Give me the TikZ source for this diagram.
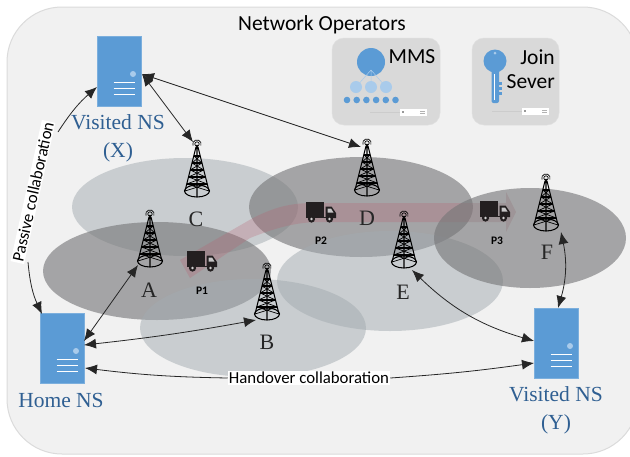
\documentclass[tikz,border=0pt]{standalone}
\usepackage{fontspec}
\setmainfont{Carlito}
\newfontfamily\labelfont{Liberation Serif}
\usetikzlibrary{arrows.meta,calc}
\definecolor{srvblue}{HTML}{5B9BD5}
\definecolor{srvlight}{HTML}{A9CBEB}
\definecolor{nstext}{HTML}{2F5F92}
\definecolor{truckdark}{HTML}{231F20}
\definecolor{cellpale}{HTML}{A3ABB0}
\definecolor{celldark}{HTML}{767678}
\definecolor{bandtone}{HTML}{B85F70}
\tikzset{
  x=1pt,y=-1pt,
  canvasbox/.style={fill=black!5.5,draw=black!14,line width=1pt,rounded corners=55pt},
  darkcell/.style={fill=celldark,fill opacity=.62,draw=none},
  lightcell/.style={fill=cellpale,fill opacity=.5,draw=none},
  bandfill/.style={fill=bandtone,fill opacity=.27,draw=none},
  serverbox/.style={fill=srvblue,draw=srvblue!80!white,line width=.5pt,minimum width=44pt,minimum height=70pt,inner sep=0pt},
  toolbox/.style={fill=black!15,draw=black!12,line width=.5pt,rounded corners=12pt,inner sep=0pt},
  nslabel/.style={font=\labelfont\fontsize{21.5}{28}\selectfont,text=nstext,align=center,inner sep=0pt},
  cellletter/.style={font=\labelfont\fontsize{22}{24}\selectfont,text=black!85,inner sep=0pt},
  poslabel/.style={font=\bfseries\fontsize{11.5}{13}\selectfont,inner sep=0pt},
  toollabel/.style={font=\fontsize{21.5}{25}\selectfont,inner sep=0pt,align=right},
  titlelabel/.style={font=\fontsize{21.5}{25}\selectfont,inner sep=0pt},
  collabel/.style={font=\fontsize{16.8}{20}\selectfont,fill=white,inner sep=1pt},
  link/.style={draw=black!85,line width=.8pt},
  biarrow/.style={link,{Latex[length=12pt,width=10pt]}-{Latex[length=12pt,width=10pt]}},
  onearrow/.style={link,-{Latex[length=12pt,width=10pt]}},
  towerline/.style={draw=black,line width=1.05pt},
  tower/.pic={
    \draw[towerline,line width=.7pt] (0,2) circle [radius=2.2pt];
    \draw[towerline,line width=.7pt] (-4,3.5) arc [start angle=200,end angle=-20,radius=4.2pt];
    \fill[black] (0,4) circle [radius=1.4pt];
    \draw[towerline] (-1,5) -- (-12,49) (1,5) -- (12,49) (0,5) -- (0,55);
    \draw[towerline] (0,49) ellipse [x radius=12.5pt,y radius=6pt];
    \foreach \yy/\ww in {14/3.2,21/5,28/6.8,35/8.5,42/10.3}
      \draw[towerline] (-\ww,\yy) -- (\ww,\yy);
    \foreach \ya/\wa/\yb/\wb in {14/3.2/21/5,21/5/28/6.8,28/6.8/35/8.5,35/8.5/42/10.3,42/10.3/49/12}{
      \draw[towerline,line width=.7pt] (-\wa,\ya) -- (\wb,\yb) (\wa,\ya) -- (-\wb,\yb);}
  },
  truck/.pic={
    \fill[truckdark] (-15,-10) rectangle (3,4.5);
    \fill[truckdark] (4.5,-5.5) -- (10.5,-5.5) -- (15,1) -- (15,6) -- (4.5,6) -- cycle;
    \fill[white,fill opacity=.75] (6.5,-3.5) -- (10,-3.5) -- (12.5,0.5) -- (6.5,0.5) -- cycle;
    \fill[truckdark] (-15,5) rectangle (4.5,6);
    \foreach \wx in {-9.5,8.5}{
      \fill[truckdark] (\wx,7) circle [radius=3.6pt];
      \fill[white,fill opacity=.8] (\wx,7) circle [radius=1.4pt];}
  }
}
\newcommand{\serverat}[3]{%
  \node[serverbox] (#1) at (#2,#3) {};
  \fill[srvlight] ($(#1)+(14,3)$) circle [radius=3pt];
  \foreach \ly in {11,17,23}
    \draw[white,line width=1pt] ($(#1)+(-5.5,\ly)$) -- ($(#1)+(16,\ly)$);}
\newcommand{\applianceat}[2]{%
  \draw[black!20,line width=.6pt] (#1-30,#2) -- (#1,#2);
  \fill[white] (#1,#2-3.5) rectangle (#1+27,#2+3.5);
  \fill[black!40] (#1+2,#2-.8) rectangle (#1+4,#2+.8);
  \draw[black!30,line width=.5pt] (#1+20,#2-1) -- (#1+25,#2-1) (#1+20,#2+1) -- (#1+25,#2+1);}
\begin{document}
\begin{tikzpicture}
\useasboundingbox (0,0) rectangle (630,456);
\clip (0,0) rectangle (630,456);
\fill[white] (0,0) rectangle (630,456);
\path[canvasbox] (7,7) rectangle (638,454);
% coverage cells
\path[lightcell] (185,207) ellipse [x radius=113pt,y radius=49pt];
\path[darkcell] (157,271) ellipse [x radius=114pt,y radius=49pt];
\path[darkcell] (361,207) ellipse [x radius=112pt,y radius=50pt];
\path[bandfill] (180,260) -- (253,218) .. controls (275,207) and (290,203) .. (315,203)
  -- (506,203) -- (506,192) -- (516,212) -- (506,232) -- (506,222)
  -- (320,222) .. controls (300,222) and (280,226) .. (250,238) -- (190,278) -- cycle;
\path[lightcell] (253,328) ellipse [x radius=113pt,y radius=49pt];
\path[lightcell] (390,281) ellipse [x radius=113pt,y radius=50pt];
\path[darkcell] (530,238) ellipse [x radius=96pt,y radius=50pt];
% title
\node[titlelabel] (title) at (322,25) {Network Operators};
% tool boxes
\path[toolbox] (332,38) rectangle (440,125);
\path[toolbox] (472,38) rectangle (559,125);
\fill[srvblue] (371,62) circle [radius=14pt];
\draw[srvlight,line width=.5pt] (371,70) -- (356,87) (371,70) -- (371,87) (371,70) -- (386,87);
\foreach \cx in {356,371,386} \fill[srvlight] (\cx,87) circle [radius=6pt];
\foreach \cx in {347,356.7,366.4,376.1,385.8,395.5} \fill[srvblue] (\cx,100) circle [radius=3.3pt];
\applianceat{400}{112}
\node[toollabel] (mms) at (412,57) {MMS};
\fill[srvblue] (495,61) circle [radius=11.5pt];
\fill[srvblue,rounded corners=2pt] (491.5,68) rectangle (499,103);
\foreach \ty in {82,87,92} \fill[srvblue] (499,\ty) rectangle (501.5,\ty+3);
\fill[srvlight] (495,53) circle [radius=1.5pt];
\draw[white,line width=.6pt] (494,74) -- (494,100);
\applianceat{522}{111}
\node[toollabel,anchor=east] (join) at (555,57) {Join};
\node[toollabel,anchor=east] (sever) at (555,82) {Sever};
% servers
\serverat{srvX}{119}{71}
\serverat{srvHome}{62}{348}
\serverat{srvY}{556}{343}
\node[nslabel] (lblX) at (118,138) {Visited NS\\(X)};
\node[nslabel] (lblHome) at (61,400) {Home NS};
\node[nslabel] (lblY) at (556,410) {Visited NS\\(Y)};
% towers
\path (197,142) pic {tower};
\path (150,212) pic {tower};
\path (267,265) pic {tower};
\path (367,141) pic {tower};
\path (404,213) pic {tower};
\path (546,176) pic {tower};
\node[cellletter] (letC) at (196,219) {C};
\node[cellletter] (letA) at (149,290) {A};
\node[cellletter] (letB) at (267,342) {B};
\node[cellletter] (letD) at (367,218) {D};
\node[cellletter] (letE) at (403,292) {E};
\node[cellletter] (letF) at (547,252) {F};
% trucks
\path (202,261) pic {truck};
\path (321,212) pic {truck};
\path (495,211) pic {truck};
\node[poslabel] (p1) at (202,291) {P1};
\node[poslabel] (p2) at (321,241) {P2};
\node[poslabel] (p3) at (497,241) {P3};
% connector ends
\coordinate (xc) at (142,74);
\coordinate (xw) at (97,87);
\coordinate (towC) at (193,142);
\coordinate (towD) at (361,147);
\coordinate (towA) at (138,265);
\coordinate (towB) at (256,320);
\coordinate (towE) at (412,270);
\coordinate (towF) at (561,232);
\coordinate (homeA) at (84,341);
\coordinate (homeB) at (84,345);
\coordinate (homeH) at (85,368);
\coordinate (homeN) at (42,314);
\coordinate (yE) at (534,341);
\coordinate (yH) at (534,363);
\coordinate (yF) at (558,308);
% collaboration labels
\node[collabel,rotate=77.5] (passive) at (33,192) {Passive collaboration};
\node[collabel] (handover) at (309,378) {Handover collaboration};
% connectors
\draw[biarrow] (xc) -- (towC);
\draw[biarrow] (xc) -- (towD);
\draw[onearrow] (58,132) to[bend left=8] (xw);
\draw[onearrow] (28,262) to[bend right=10] (homeN);
\draw[biarrow] (homeA) -- (towA);
\draw[biarrow] (homeB) to[bend right=2] (towB);
\draw[onearrow] (handover.west) to[bend left=3] (homeH);
\draw[onearrow] (handover.east) to[bend right=2] (yH);
\draw[biarrow] (towE) to[bend right=14] (yE);
\draw[biarrow] (towF) to[bend left=14] (yF);
\end{tikzpicture}
\end{document}
